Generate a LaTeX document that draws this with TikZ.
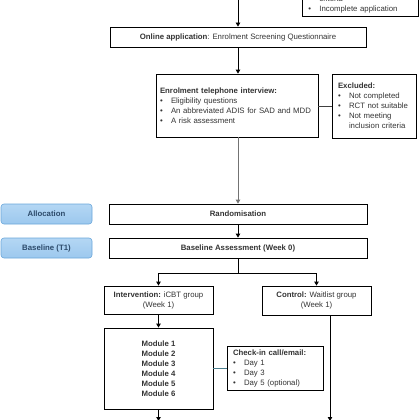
\documentclass[tikz,border=0pt]{standalone}
\usepackage{fontspec}
\setmainfont{Liberation Sans}
\usetikzlibrary{arrows.meta,positioning,calc}
\definecolor{txt}{HTML}{333333}
\definecolor{bluefill}{HTML}{9CC8EE}
\definecolor{bluetop}{HTML}{B4D7F4}
\definecolor{blueedge}{HTML}{6AA6DA}
\definecolor{bluetxt}{HTML}{2C4A6A}
\definecolor{tealline}{HTML}{4C7F8E}
\tikzset{
  box/.style={draw=black, line width=0.8pt, rectangle, inner sep=0pt, font=\fontsize{7.8}{10}\selectfont, text=txt},
  listbox/.style={box, align=left, inner xsep=6pt},
  phase/.style={draw=blueedge, line width=0.6pt, rounded corners=3pt, top color=bluetop, bottom color=bluefill, text=bluetxt, font=\fontsize{7.8}{9}\selectfont\bfseries, minimum width=91, minimum height=20, inner sep=0pt},
  conn/.style={line width=0.8pt, draw=black},
  arr/.style={conn, -{Triangle[width=4.5pt,length=4pt]}},
}
\newcommand{\bul}{\makebox[11pt][l]{\textbullet}}
\newcommand{\ind}{\hspace*{11pt}}
\begin{document}
\begin{tikzpicture}[x=1pt,y=-1pt]
\useasboundingbox (0,0) rectangle (420,420);
% top partial exclusion box
\node[listbox, anchor=south west, minimum width=116, text width=104, inner ysep=3pt] (ex0) at (302,17)
  {\ind criteria\\\bul Incomplete application};
\coordinate (top) at (238,-5);
\node[box, minimum width=256, minimum height=20] (online) at (238,37)
  {\textbf{Online application}: Enrolment Screening Questionnaire};
\node[listbox, inner xsep=4pt, minimum width=162, minimum height=63, text width=154] (tel) at (237,105.5)
  {\textbf{Enrolment telephone interview:}\\\bul Eligibility questions\\\bul An abbreviated ADIS for SAD and MDD\\\bul A risk assessment};
\node[listbox, minimum width=82, minimum height=64, text width=72] (ex1) at (374,106)
  {\textbf{Excluded:}\\\bul Not completed\\\bul RCT not suitable\\\bul Not meeting\\\ind inclusion criteria};
\node[box, minimum width=258, minimum height=20, font=\fontsize{7.8}{10}\selectfont\bfseries] (rand) at (238,214) {Randomisation};
\node[box, minimum width=258, minimum height=20, font=\fontsize{7.8}{10}\selectfont\bfseries] (base) at (238,248) {Baseline Assessment (Week 0)};
\node[phase] (alloc) at (46.5,214) {Allocation};
\node[phase] (bl) at (46.5,248) {Baseline (T1)};
\node[box, minimum width=109, minimum height=28, align=center] (int) at (158.5,300)
  {\textbf{Intervention:} iCBT group\\(Week 1)};
\node[box, minimum width=109, minimum height=29, align=center] (ctrl) at (316.5,300.5)
  {\textbf{Control:} Waitlist group\\(Week 1)};
\node[box, minimum width=109, minimum height=81, align=center, font=\fontsize{7.8}{10}\selectfont\bfseries] (mod) at (158.5,368.5)
  {Module 1\\Module 2\\Module 3\\Module 4\\Module 5\\Module 6};
\node[listbox, minimum width=94, minimum height=44, text width=84] (chk) at (275,368)
  {\textbf{Check-in call/email:}\\\bul Day 1\\\bul Day 3\\\bul Day 5 (optional)};
% connectors
\draw[arr] (top) -- (online.north -| top);
\draw[arr] (online.south) -- (online.south |- tel.north);
\draw[conn, draw=black!75] (tel.east |- ex1.west) -- (ex1.west);
\draw[arr, draw=black!55] (tel.south -| rand.north) -- (rand.north);
\draw[arr] (rand.south) -- (base.north);
\coordinate (split) at (238,273);
\draw[conn] (base.south) -- (split);
\draw[arr] (split) -| (int.north);
\draw[arr] (split) -| (ctrl.north);
\draw[arr] (int.south) -- (mod.north);
\draw[conn, draw=tealline] (mod.east |- chk.west) -- (chk.west);
\coordinate (endI) at (158.5,421);
\coordinate (endC) at (330,421);
\draw[arr] (mod.south) -- (endI);
\draw[arr] (ctrl.south -| endC) -- (endC);
\end{tikzpicture}
\end{document}
